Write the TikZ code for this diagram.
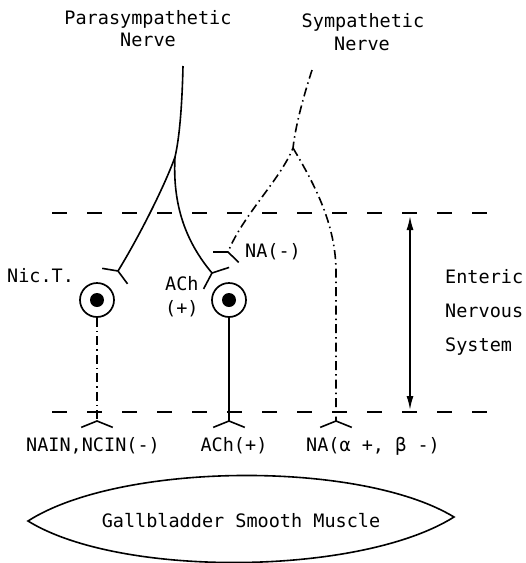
\documentclass[tikz,border=0pt]{standalone}
\usepackage{fontspec}
\setmainfont{DejaVu Sans Mono}
\usetikzlibrary{calc,arrows.meta}
\newcommand\synapse[3]{\draw[nerve,solid] ($(#1)!#3!112:(#2)$) -- (#1) -- ($(#1)!#3!-112:(#2)$);}
\begin{document}
\begin{tikzpicture}[x=1pt,y=-1pt,
  nerve/.style={line width=1.6pt},
  dashdot/.style={line width=1.6pt, dash pattern=on 9pt off 4pt on 1.5pt off 4pt},
  layer/.style={line width=2.8pt, dash pattern=on 15pt off 20pt},
  lbl/.style={inner sep=0pt, font=\fontsize{18.5}{20}\selectfont},
  cell/.style={circle, draw, line width=1.7pt, minimum size=34pt, inner sep=0pt},
  nucleus/.style={circle, fill, minimum size=14pt, inner sep=0pt},
  dbl/.style={line width=1.6pt, {Latex[length=14pt,width=7pt]}-{Latex[length=14pt,width=7pt]}}]
\useasboundingbox (0,0) rectangle (526,563);

% titles
\node[lbl, anchor=base] (pt1) at (148,24) {Parasympathetic};
\node[lbl, anchor=base] (pt2) at (148,46) {Nerve};
\node[lbl, anchor=base] (st1) at (363,27) {Sympathetic};
\node[lbl, anchor=base] (st2) at (362,50) {Nerve};

% layer boundaries
\coordinate (t1) at (52,213); \coordinate (t2) at (488,213);
\coordinate (b1) at (52,412); \coordinate (b2) at (488,412);
\draw[layer] (t1) -- (t2);
\draw[layer] (b1) -- (b2);

% enteric neurons
\node[cell] (n1) at (97,300) {};
\node[nucleus] (k1) at (n1) {};
\node[cell] (n2) at (229,300) {};
\node[nucleus] (k2) at (n2) {};
\coordinate (n1b) at (97,421);
\coordinate (n2b) at (229,421);
\draw[dashdot] (n1.south) -- (n1b);
\draw[nerve] (n2.south) -- (n2b);
\synapse{n1b}{n1}{17pt}
\synapse{n2b}{n2}{17pt}

% parasympathetic nerve
\coordinate (p0) at (183,66);
\coordinate (pf) at (175,157);
\coordinate (pl) at (118,271);
\coordinate (pr) at (212,273);
\draw[nerve] (p0) .. controls (182,110) and (179,140) .. (pf)
  .. controls (173,195) and (180,235) .. (pr);
\draw[nerve] (pf) .. controls (165,185) and (140,235) .. (pl);
\synapse{pl}{140,235}{16pt}
\synapse{pr}{180,235}{18pt}

% sympathetic nerve
\coordinate (s0) at (312,70);
\coordinate (sf) at (293,148);
\coordinate (sl) at (228,252);
\coordinate (sr) at (336,272);
\coordinate (sb) at (336,421);
\draw[dashdot] (s0) .. controls (305,92) and (296,122) .. (sf)
  .. controls (280,180) and (243,215) .. (sl);
\draw[dashdot] (sf) .. controls (315,185) and (336,225) .. (sr) -- (sb);
\synapse{sl}{243,215}{15pt}
\synapse{sb}{sr}{17pt}

% enteric nervous system extent
\coordinate (at) at (410,216);
\coordinate (ab) at (410,410);
\draw[dbl] (at) -- (ab);

% labels
\node[lbl, anchor=base west] (nic) at (7,282) {Nic.T.};
\node[lbl, anchor=base west] (ach1) at (165,290) {ACh};
\node[lbl, anchor=base west] (ach2) at (165,314) {(+)};
\node[lbl, anchor=base west] (na1) at (245,257) {NA(-)};
\node[lbl, anchor=base west] (e1) at (445,283) {Enteric};
\node[lbl, anchor=base west] (e2) at (445,317) {Nervous};
\node[lbl, anchor=base west] (e3) at (445,351) {System};
\node[lbl, anchor=base] (l1) at (93,451) {NAIN,NCIN(-)};
\node[lbl, anchor=base] (l2) at (234,451) {ACh(+)};
\node[lbl, anchor=base] (l3) at (373,451) {NA(α +, β -)};

% gallbladder smooth muscle
\coordinate (ml) at (28,521);
\coordinate (mr) at (454,517);
\draw[line width=1.6pt] (ml) .. controls (120,462) and (360,460) .. (mr)
  .. controls (360,576) and (120,578) .. (ml) -- cycle;
\node[lbl, anchor=base] (gb) at (241,527) {Gallbladder Smooth Muscle};
\end{tikzpicture}
\end{document}
